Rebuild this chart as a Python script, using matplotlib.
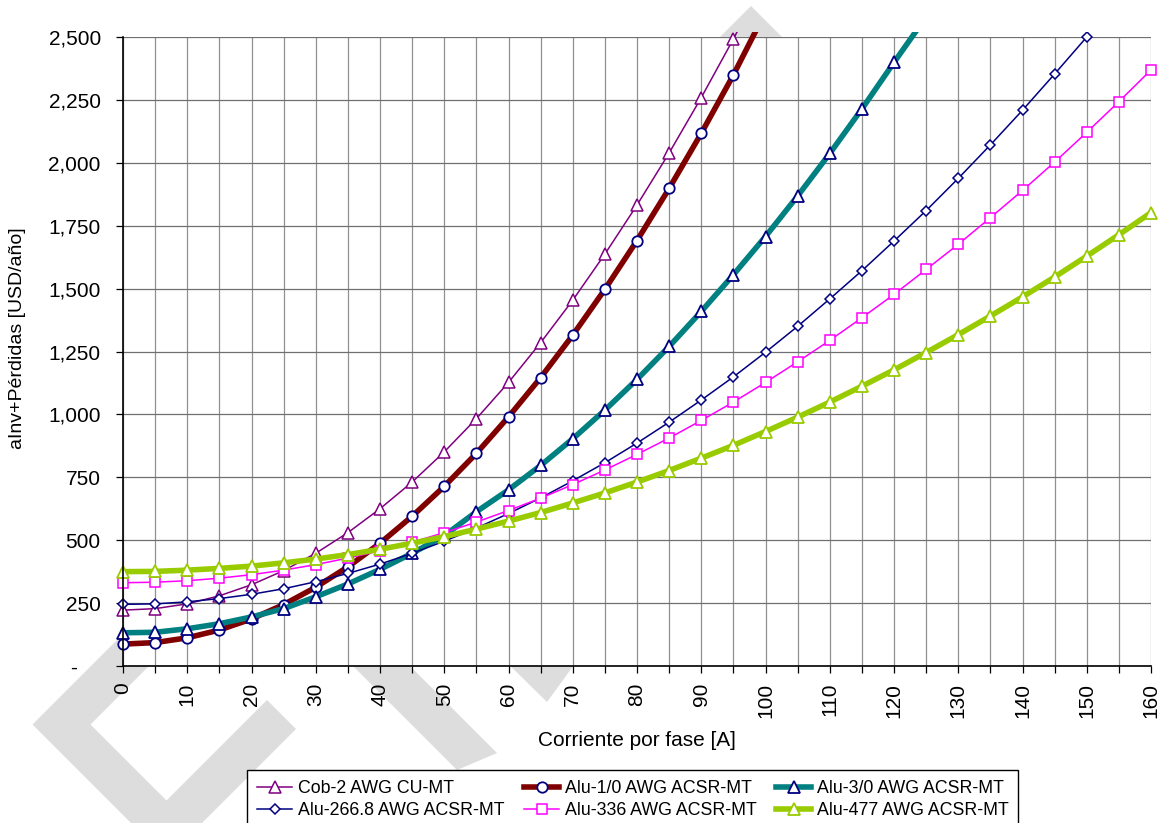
import matplotlib
matplotlib.use("Agg")
import matplotlib.pyplot as plt
import matplotlib.ticker as ticker
from matplotlib.patches import Polygon, Rectangle

plt.rcParams['font.family'] = ['Liberation Sans', 'DejaVu Sans']

# corriente por fase [A]
corriente = list(range(0, 165, 5))

# costo anual inversion + perdidas [USD/año] por conductor
cob_2 = [222, 228, 247, 279, 323, 379, 448, 530, 625, 731, 851, 983, 1127,
         1285, 1454, 1637, 1832, 2039, 2259, 2492, 2737]
alu_1_0 = [87, 93, 112, 143, 187, 244, 313, 394, 488, 595, 714, 845, 990,
           1146, 1315, 1497, 1691, 1898, 2117, 2349, 2600]
alu_3_0 = [132, 134, 148, 168, 195, 228, 275, 326, 384, 448, 518, 613, 700,
           797, 903, 1017, 1139, 1270, 1409, 1555, 1707, 1868, 2037, 2214,
           2399, 2580]
alu_266 = [245, 247, 255, 268, 285, 307, 335, 368, 405, 448, 496, 548, 606,
           668, 736, 808, 886, 969, 1057, 1149, 1247, 1350, 1459, 1571, 1689,
           1810, 1938, 2071, 2209, 2353, 2500]
alu_336 = [331, 333, 339, 349, 363, 381, 403, 429, 458, 492, 530, 572, 618,
           667, 721, 779, 841, 906, 976, 1049, 1127, 1209, 1294, 1384, 1477,
           1576, 1676, 1782, 1890, 2003, 2121, 2243, 2369]
alu_477 = [375, 376, 381, 388, 397, 410, 425, 443, 464, 488, 514, 544, 576,
           610, 648, 688, 731, 777, 826, 877, 932, 989, 1049, 1112, 1177,
           1246, 1317, 1391, 1467, 1546, 1629, 1714, 1802]

nombres = ['Cob-2 AWG CU-MT', 'Alu-1/0 AWG ACSR-MT', 'Alu-3/0 AWG ACSR-MT',
           'Alu-266.8 AWG ACSR-MT', 'Alu-336 AWG ACSR-MT', 'Alu-477 AWG ACSR-MT']

fig = plt.figure(figsize=(11.65, 8.23), dpi=100)

# marca de agua gris de fondo (coordenadas en pixeles de la figura)
bg = fig.add_axes([0, 0, 1, 1], zorder=0)
bg.set_xlim(0, 1165)
bg.set_ylim(823, 0)
bg.axis('off')
gris = '#dddddd'
forma = [(751, 6), (1000, 255), (942, 255), (751, 64), (90.5, 724.5),
         (166.5, 800.5), (267, 700), (296, 729), (166.5, 858.5),
         (32.5, 724.5)]
bg.add_patch(Polygon(forma, closed=True, fc=gris, ec='none'))
bg.add_patch(Polygon([(330, 643), (387, 643), (497, 753), (457, 770)],
                     closed=True, fc=gris, ec='none'))
bg.add_patch(Polygon([(487, 643), (590, 643), (547, 702)],
                     closed=True, fc=gris, ec='none'))

ax = fig.add_axes([123 / 1165, 1 - 666 / 823, 1028 / 1165, 629 / 823], zorder=1)
ax.set_facecolor('white')

estilos = [
    dict(color='#800080', lw=1.1, marker='^', ms=8, mfc='white', mec='#800080', mew=1.1),
    dict(color='#800000', lw=4.0, marker='o', ms=7.5, mfc='white', mec='#000080', mew=1.3),
    dict(color='#008080', lw=4.0, marker='^', ms=8, mfc='white', mec='#000080', mew=1.3),
    dict(color='#000080', lw=1.1, marker='D', ms=5.5, mfc='white', mec='#000080', mew=1.1),
    dict(color='#ff00ff', lw=1.1, marker='s', ms=7.5, mfc='white', mec='#ff00ff', mew=1.1),
    dict(color='#99cc00', lw=4.0, marker='^', ms=8, mfc='white', mec='#99cc00', mew=1.3),
]
series = [cob_2, alu_1_0, alu_3_0, alu_266, alu_336, alu_477]

clip = Rectangle((-0.01, -0.01), 1.02, 1.018, transform=ax.transAxes)
lineas = []
for vals, nombre, st in zip(series, nombres, estilos):
    ln, = ax.plot(corriente[:len(vals)], vals, label=nombre, **st)
    ln.set_clip_path(clip)
    lineas.append(ln)

ax.set_xlim(0, 160)
ax.set_ylim(0, 2500)
ax.xaxis.set_major_locator(ticker.MultipleLocator(10))
ax.xaxis.set_minor_locator(ticker.MultipleLocator(5))
ax.yaxis.set_major_locator(ticker.MultipleLocator(250))
ax.yaxis.set_major_formatter(ticker.FuncFormatter(
    lambda v, p: '-    ' if v == 0 else f'{v:,.0f}'))

ax.grid(True, axis='y', which='major', color='#707070', lw=0.9)
ax.grid(True, axis='x', which='both', color='#909090', lw=0.9)
ax.set_axisbelow(True)

for s in ['top', 'right']:
    ax.spines[s].set_visible(False)
for s in ['left', 'bottom']:
    ax.spines[s].set_color('black')
    ax.spines[s].set_linewidth(1.2)

ax.tick_params(axis='x', which='both', direction='out', length=5, width=0.9,
               labelsize=15, labelrotation=90, pad=7)
ax.tick_params(axis='y', direction='out', length=5, width=0.9,
               labelsize=15, pad=11)

fig.text(637 / 1165, 1 - 740 / 823, 'Corriente por fase [A]',
         ha='center', va='center', fontsize=15)
fig.text(18 / 1165, 1 - 338 / 823, 'aInv+Pérdidas [USD/año]',
         ha='center', va='center', rotation=90, fontsize=14)

# leyenda en 3 columnas, llenada por filas
orden = [0, 3, 1, 4, 2, 5]
leg = fig.legend([lineas[i] for i in orden], [nombres[i] for i in orden],
                 loc='upper left', bbox_to_anchor=(247 / 1165, 1 - 770 / 823),
                 ncol=3, fontsize=12.8, frameon=True, fancybox=False,
                 edgecolor='black', framealpha=1, handlelength=2.0,
                 handletextpad=0.3, columnspacing=1.1, labelspacing=0.32,
                 borderpad=0.55, borderaxespad=0)
leg.get_frame().set_linewidth(1.0)

fig.savefig('out.png', dpi=100)
